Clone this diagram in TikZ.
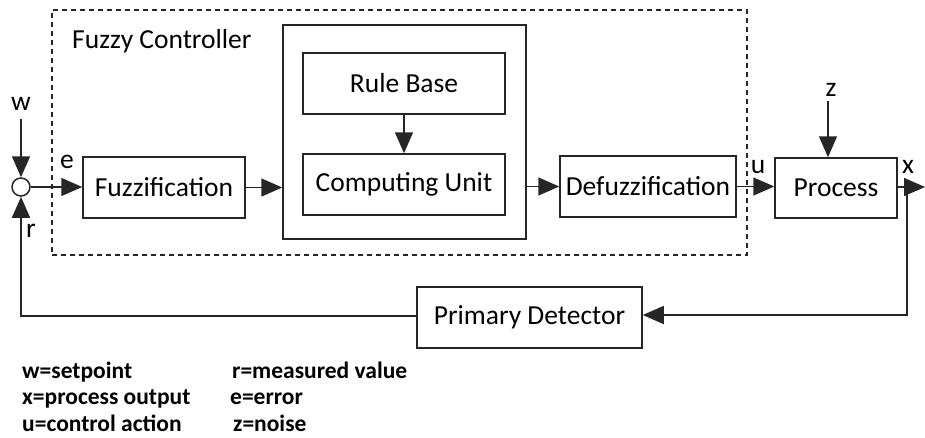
\documentclass[tikz,border=0pt]{standalone}
\usepackage{fontspec}
\setmainfont{Carlito}
\usetikzlibrary{arrows.meta}
\begin{document}
\begin{tikzpicture}[x=1pt,y=-1pt,
  blk/.style={draw=black!85, line width=1.5pt, fill=white, inner sep=0pt,
    font=\fontsize{27.5}{30}\selectfont},
  arr/.style={line width=1.5pt, draw=black!85, -{Triangle[length=21pt,width=18pt]}},
  lbl/.style={inner sep=0pt, anchor=base, font=\fontsize{27.5}{30}\selectfont},
  leg/.style={inner sep=0pt, anchor=base west, font=\bfseries\fontsize{23.5}{26}\selectfont}]
\useasboundingbox (0,0) rectangle (925,437);

% controller frame
\node[draw=black!85, dashed, dash pattern=on 5pt off 4pt, line width=1.4pt,
  minimum width=695, minimum height=245, inner sep=0pt] (ctrl) at (399.5,132.5) {};
\node[inner sep=0pt, anchor=base west, font=\fontsize{27.5}{30}\selectfont]
  (ctrltitle) at (72,48) {Fuzzy Controller};

% blocks
\node[blk, minimum width=162, minimum height=61] (fuzz) at (164,187.5) {Fuzzification};
\node[blk, minimum width=243, minimum height=214] (outer) at (404.5,132) {};
\node[blk, minimum width=202, minimum height=61] (rule) at (404,83.5) {Rule Base};
\node[blk, minimum width=202, minimum height=61] (comp) at (404,184.5) {Computing Unit};
\node[blk, minimum width=176, minimum height=61] (defuzz) at (648,186.5) {Defuzzification};
\node[blk, minimum width=122, minimum height=60] (proc) at (836,188) {Process};
\node[blk, minimum width=225, minimum height=61] (pd) at (529.5,317.5) {Primary Detector};

% summing junction
\node[circle, draw=black!85, fill=white, line width=1.5pt, minimum size=18, inner sep=0pt]
  (sum) at (21,187) {};

% free ends
\coordinate (wIn) at (21,119);
\coordinate (zIn) at (828,101);
\coordinate (tap) at (907,187);
\coordinate (xOut) at (925,187);

% signal flow
\draw[arr] (wIn) -- (sum.north);
\draw[arr] (sum.east) -- (sum.east -| fuzz.west);
\draw[arr] (fuzz.east) -- (fuzz.east -| outer.west);
\draw[arr] (rule.south) -- (comp.north);
\draw[arr] (outer.east |- defuzz) -- (defuzz.west);
\draw[arr] (defuzz.east) -- (defuzz.east -| proc.west);
\draw[arr] (zIn) -- (zIn |- proc.north);
\draw[arr] (proc.east |- tap) -- (xOut);
\draw[arr] (tap) -- (tap |- 0,315) -- (pd.east |- 0,315);
\draw[arr] (pd.west |- 0,316) -- (sum |- 0,316) -- (sum.south);

% signal names
\node[lbl] (lw) at (21,110) {w};
\node[lbl] (le) at (67,168) {e};
\node[lbl] (lr) at (31,237) {r};
\node[lbl] (lu) at (758,173) {u};
\node[lbl] (lz) at (831,96) {z};
\node[lbl] (lx) at (908,173) {x};

% legend
\node[leg] (g1) at (22,378) {w=setpoint};
\node[leg] (g2) at (22,404) {x=process output};
\node[leg] (g3) at (22,431) {u=control action};
\node[leg] (g4) at (232,378) {r=measured value};
\node[leg] (g5) at (230,404) {e=error};
\node[leg] (g6) at (233,431) {z=noise};
\end{tikzpicture}
\end{document}
